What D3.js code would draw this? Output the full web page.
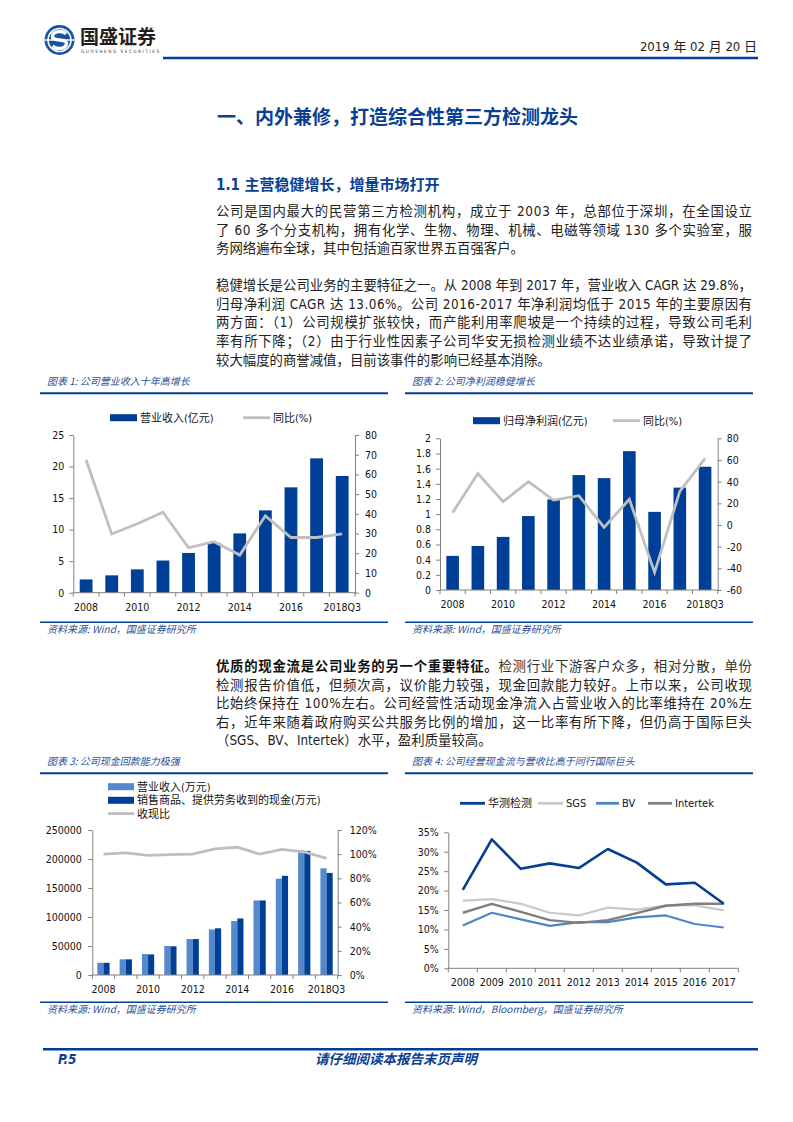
<!DOCTYPE html>
<html>
<head>
<meta charset="utf-8">
<script src="https://cdn.jsdelivr.net/npm/d3@7"></script>
<style>
  body { margin: 0; background: #fff; }
  svg { display: block; }
  text { font-family: "DejaVu Sans Condensed", "DejaVu Sans", "Noto Sans CJK SC", sans-serif; }
  .cjk { font-family: "Noto Sans CJK SC", sans-serif; }
</style>
</head>
<body>
<svg id="page" width="793" height="1122"></svg>
<script>
// ---- data ----
const years = ['2008', '2009', '2010', '2011', '2012', '2013', '2014', '2015', '2016', '2017', '2018Q3'];

// chart 1: revenue (亿元) and yoy (%)
const revenue = [2.1, 2.75, 3.7, 5.1, 6.3, 7.9, 9.4, 13.05, 16.7, 21.3, 18.5];
const revenueYoy = [67.3, 29.8, 35, 40.8, 22.8, 25.9, 19.1, 39, 28, 28, 29.8];
const revLeftTicks = [0, 5, 10, 15, 20, 25];
const revRightTicks = [0, 10, 20, 30, 40, 50, 60, 70, 80];

// chart 2: net profit (亿元) and yoy (%)
const profit = [0.45, 0.58, 0.70, 0.975, 1.195, 1.515, 1.475, 1.83, 1.03, 1.35, 1.625];
const profitYoy = [11.4, 47.5, 21.5, 40, 23, 27, -2.2, 23.7, -43.7, 31, 61.5];
const profLeftTicks = [0, 0.2, 0.4, 0.6, 0.8, 1, 1.2, 1.4, 1.6, 1.8, 2];
const profRightTicks = [-60, -40, -20, 0, 20, 40, 60, 80];

// chart 3: revenue vs cash received (万元), cash ratio (%)
const cashRevenue = [21000, 27000, 36000, 50000, 62000, 78500, 93000, 128500, 166000, 215000, 184000];
const cashReceived = [21000, 27000, 35500, 49500, 62000, 80500, 97500, 128500, 171000, 214000, 176000];
const cashRatio = [100, 101, 99, 99.7, 100, 104.3, 105.7, 100, 104, 101.8, 96.5];
const cashLeftTicks = [0, 50000, 100000, 150000, 200000, 250000];
const cashRightTicks = [0, 20, 40, 60, 80, 100, 120];

// chart 4: operating cash flow / revenue (%)
const peerYears = ['2008', '2009', '2010', '2011', '2012', '2013', '2014', '2015', '2016', '2017'];
const huace = [20.2, 33.2, 25.6, 27.0, 25.8, 30.7, 27.2, 21.6, 22.0, 16.6];
const sgs = [17.4, 17.8, 16.6, 14.3, 13.6, 15.6, 15.1, 16.2, 16.2, 14.9];
const bv = [11.0, 14.3, 12.6, 10.9, 11.9, 11.9, 13.1, 13.6, 11.4, 10.5];
const intertek = [14.3, 16.6, 14.5, 12.4, 11.7, 12.4, 14.2, 16.1, 16.6, 16.6];
const peerTicks = [0, 5, 10, 15, 20, 25, 30, 35];

// ---- colours ----
const BLUE = '#003f98', LIGHT = '#5589cc', GRAY = '#bfbfbf', AXIS = '#808080';
const NAVY = '#0b3f93', TXT = '#222';

const svg = d3.select('#page');

// ---- page header ----
const logo = svg.append('g').attr('transform', 'translate(59.5,40)');
logo.append('circle').attr('r', 15).attr('fill', '#1753a4');
logo.append('circle').attr('r', 11.5).attr('fill', 'none').attr('stroke', '#fff').attr('stroke-width', 1.6);
logo.append('path')
  .attr('d', 'M6.5,-6 C3,-10 -7,-9 -7,-3.5 C-7,2 7,-2 7,3.5 C7,9 -3,10 -7,6')
  .attr('fill', 'none').attr('stroke', '#fff').attr('stroke-width', 3.4);
logo.append('line').attr('x1', -15).attr('x2', 15).attr('stroke', '#fff').attr('stroke-width', 1.4);

svg.append('text').attr('x', 80).attr('y', 44)
  .attr('font-size', 19).attr('font-weight', 'bold').attr('fill', '#231f20').text('国盛证券');
svg.append('text').attr('x', 81).attr('y', 53).attr('font-size', 4.6).attr('fill', '#333')
  .attr('textLength', 78).attr('lengthAdjust', 'spacing').text('GUOSHENG SECURITIES');

svg.append('text').attr('x', 757).attr('y', 50.5).attr('text-anchor', 'end')
  .attr('font-size', 13).attr('fill', TXT)
  .attr('font-family', '"Liberation Sans Narrow","Liberation Sans","Noto Sans CJK SC",sans-serif')
  .text('2019 年 02 月 20 日');
svg.append('line').attr('x1', 163).attr('x2', 758).attr('y1', 58).attr('y2', 58)
  .attr('stroke', BLUE).attr('stroke-width', 2.5);

svg.append('text').attr('class', 'cjk').attr('x', 217).attr('y', 124)
  .attr('font-size', 19).attr('font-weight', 'bold').attr('fill', NAVY)
  .text('一、内外兼修，打造综合性第三方检测龙头');
svg.append('text').attr('x', 216).attr('y', 189.5)
  .attr('font-size', 15).attr('font-weight', 'bold').attr('fill', NAVY)
  .text('1.1 主营稳健增长，增量市场打开');

// ---- body text, justified line by line ----
function para(lines, y0, lh) {
  lines.forEach((ln, i) => {
    const t = svg.append('text').attr('x', 216).attr('y', y0 + i * lh)
      .attr('font-size', 13.4).attr('fill', TXT);
    if (ln.full) t.attr('textLength', 536).attr('lengthAdjust', 'spacing');
    if (ln.bold) {
      t.append('tspan').attr('font-weight', 'bold').attr('fill', '#111').text(ln.bold);
      t.append('tspan').attr('fill', '#333').text(ln.t);
    } else {
      t.text(ln.t);
    }
  });
}

para([
  { t: '公司是国内最大的民营第三方检测机构，成立于 2003 年，总部位于深圳，在全国设立', full: true },
  { t: '了 60 多个分支机构，拥有化学、生物、物理、机械、电磁等领域 130 多个实验室，服', full: true },
  { t: '务网络遍布全球，其中包括逾百家世界五百强客户。' }
], 216, 18.6);

para([
  { t: '稳健增长是公司业务的主要特征之一。从 2008 年到 2017 年，营业收入 CAGR 达 29.8%，', full: true },
  { t: '归母净利润 CAGR 达 13.06%。公司 2016-2017 年净利润均低于 2015 年的主要原因有', full: true },
  { t: '两方面：（1）公司规模扩张较快，而产能利用率爬坡是一个持续的过程，导致公司毛利', full: true },
  { t: '率有所下降；（2）由于行业性因素子公司华安无损检测业绩不达业绩承诺，导致计提了', full: true },
  { t: '较大幅度的商誉减值，目前该事件的影响已经基本消除。' }
], 290, 18.7);

para([
  { bold: '优质的现金流是公司业务的另一个重要特征。', t: '检测行业下游客户众多，相对分散，单份', full: true },
  { t: '检测报告价值低，但频次高，议价能力较强，现金回款能力较好。上市以来，公司收现', full: true },
  { t: '比始终保持在 100%左右。公司经营性活动现金净流入占营业收入的比率维持在 20%左', full: true },
  { t: '右，近年来随着政府购买公共服务比例的增加，这一比率有所下降，但仍高于国际巨头', full: true },
  { t: '（SGS、BV、Intertek）水平，盈利质量较高。' }
], 671, 18.5);

// ---- chart frames: caption, rules, source ----
function frame(x0, yTop, title, source) {
  svg.append('text').attr('class', 'cjk').attr('x', x0 + 7).attr('y', yTop + 3.6)
    .attr('font-size', 10).attr('font-style', 'italic').attr('fill', '#2a4f96').text(title);
  svg.append('line').attr('x1', x0).attr('x2', x0 + 348).attr('y1', yTop + 11.6).attr('y2', yTop + 11.6)
    .attr('stroke', BLUE).attr('stroke-width', 2);
  svg.append('line').attr('x1', x0).attr('x2', x0 + 348).attr('y1', yTop + 240.6).attr('y2', yTop + 240.6)
    .attr('stroke', BLUE).attr('stroke-width', 1.4);
  svg.append('text').attr('class', 'cjk').attr('x', x0 + 7).attr('y', yTop + 251.3)
    .attr('font-size', 10).attr('font-style', 'italic').attr('fill', '#2a4f96').text(source);
}

function styleAxis(g) {
  g.selectAll('path, line').attr('stroke', AXIS);
  g.selectAll('text').attr('font-size', 10.5).attr('fill', '#111')
    .attr('font-family', '"DejaVu Sans Condensed","DejaVu Sans",sans-serif');
}

function leftAxis(x, y, ticks, fmt, pad) {
  svg.append('g').attr('transform', `translate(${x},0)`)
    .call(d3.axisLeft(y).tickValues(ticks).tickFormat(fmt).tickSize(4).tickSizeOuter(0).tickPadding(pad))
    .call(styleAxis);
}

function rightAxis(x, y, ticks, fmt, pad) {
  svg.append('g').attr('transform', `translate(${x},0)`)
    .call(d3.axisRight(y).tickValues(ticks).tickFormat(fmt).tickSize(4).tickSizeOuter(0).tickPadding(pad))
    .call(styleAxis);
}

// category axis: ticks on band boundaries, labels on centres
function bottomAxis(x, yBase, labelY, every) {
  const [r0, r1] = x.range();
  const g = svg.append('g');
  g.append('line').attr('x1', r0).attr('x2', r1).attr('y1', yBase).attr('y2', yBase).attr('stroke', AXIS);
  d3.range(x.domain().length + 1).forEach(i => {
    const xx = r0 + i * x.step();
    g.append('line').attr('x1', xx).attr('x2', xx).attr('y1', yBase).attr('y2', yBase + 4).attr('stroke', AXIS);
  });
  g.selectAll('text.xl').data(x.domain().filter((d, i) => i % every === 0)).join('text')
    .attr('class', 'xl')
    .attr('x', d => x(d) + x.bandwidth() / 2).attr('y', labelY + 4)
    .attr('text-anchor', 'middle').attr('font-size', 10.5).attr('fill', '#111').text(d => d);
}

function legendRect(x, y, w, h, color, label) {
  svg.append('rect').attr('x', x).attr('y', y - h / 2).attr('width', w).attr('height', h).attr('fill', color);
  svg.append('text').attr('x', x + w + 3).attr('y', y + 4)
    .attr('font-size', 11).attr('fill', '#111').text(label);
}

function legendLine(x, y, w, color, sw, label) {
  svg.append('line').attr('x1', x).attr('x2', x + w).attr('y1', y).attr('y2', y)
    .attr('stroke', color).attr('stroke-width', sw);
  svg.append('text').attr('x', x + w + 3).attr('y', y + 4)
    .attr('font-size', 11).attr('fill', '#111').text(label);
}

const fmtNum = d => String(+d.toFixed(1));
const fmtPct = d => d + '%';

// ---- chart 1 ----
frame(40, 381.7, '图表 1:  公司营业收入十年高增长', '资料来源:  Wind，国盛证券研究所');
{
  const x = d3.scaleBand().domain(years).range([73.3, 355]).paddingInner(0.5).paddingOuter(0.25);
  const yL = d3.scaleLinear().domain([0, 25]).range([592.7, 435]);
  const yR = d3.scaleLinear().domain([0, 80]).range([592.7, 435]);

  svg.append('g').selectAll('rect').data(years).join('rect')
    .attr('x', d => x(d)).attr('width', x.bandwidth())
    .attr('y', (d, i) => yL(revenue[i])).attr('height', (d, i) => yL(0) - yL(revenue[i]))
    .attr('fill', BLUE);

  svg.append('path').datum(revenueYoy)
    .attr('d', d3.line().x((d, i) => x(years[i]) + x.bandwidth() / 2).y(d => yR(d)))
    .attr('fill', 'none').attr('stroke', GRAY).attr('stroke-width', 2.8);

  leftAxis(73.3, yL, revLeftTicks, fmtNum, 5);
  rightAxis(355, yR, revRightTicks, fmtNum, 6);
  bottomAxis(x, 592.7, 607.3, 2);

  legendRect(110, 417.7, 27, 7, BLUE, '营业收入(亿元)');
  legendLine(243, 417.7, 27, GRAY, 2.8, '同比(%)');
}

// ---- chart 2 ----
frame(405, 381.7, '图表 2:  公司净利润稳健增长', '资料来源:  Wind，国盛证券研究所');
{
  const x = d3.scaleBand().domain(years).range([440, 717.7]).paddingInner(0.5).paddingOuter(0.25);
  const yL = d3.scaleLinear().domain([0, 2]).range([590, 438.3]);
  const yR = d3.scaleLinear().domain([-60, 80]).range([590, 438.3]);

  svg.append('g').selectAll('rect').data(years).join('rect')
    .attr('x', d => x(d)).attr('width', x.bandwidth())
    .attr('y', (d, i) => yL(profit[i])).attr('height', (d, i) => yL(0) - yL(profit[i]))
    .attr('fill', BLUE);

  svg.append('path').datum(profitYoy)
    .attr('d', d3.line().x((d, i) => x(years[i]) + x.bandwidth() / 2).y(d => yR(d)))
    .attr('fill', 'none').attr('stroke', GRAY).attr('stroke-width', 2.8);

  leftAxis(440, yL, profLeftTicks, fmtNum, 5);
  rightAxis(717.7, yR, profRightTicks, fmtNum, 5);
  bottomAxis(x, 590, 604.3, 2);

  legendRect(473, 420.7, 27, 7, BLUE, '归母净利润(亿元)');
  legendLine(613, 420.7, 27, GRAY, 2.8, '同比(%)');
}

// ---- chart 3 ----
frame(40, 761.7, '图表 3:  公司现金回款能力极强', '资料来源:  Wind，国盛证券研究所');
{
  const x = d3.scaleBand().domain(years).range([92.3, 337.7]).paddingInner(0.45).paddingOuter(0.225);
  const xs = d3.scaleBand().domain(['rev', 'cash']).range([0, x.bandwidth()]);
  const yL = d3.scaleLinear().domain([0, 250000]).range([975, 830]);
  const yR = d3.scaleLinear().domain([0, 120]).range([975, 830]);

  const groups = [
    { key: 'rev', values: cashRevenue, color: LIGHT },
    { key: 'cash', values: cashReceived, color: BLUE }
  ];
  groups.forEach(s => {
    svg.append('g').selectAll('rect').data(years).join('rect')
      .attr('x', d => x(d) + xs(s.key)).attr('width', xs.bandwidth())
      .attr('y', (d, i) => yL(s.values[i])).attr('height', (d, i) => yL(0) - yL(s.values[i]))
      .attr('fill', s.color);
  });

  svg.append('path').datum(cashRatio)
    .attr('d', d3.line().x((d, i) => x(years[i]) + x.bandwidth() / 2).y(d => yR(d)))
    .attr('fill', 'none').attr('stroke', GRAY).attr('stroke-width', 2.8);

  leftAxis(92.3, yL, cashLeftTicks, d => String(d), 6.5);
  rightAxis(337.7, yR, cashRightTicks, fmtPct, 8);
  bottomAxis(x, 975, 989.3, 2);

  legendRect(108, 786.7, 26, 7, LIGHT, '营业收入(万元)');
  legendRect(108, 800.3, 26, 7, BLUE, '销售商品、提供劳务收到的现金(万元)');
  legendLine(108, 813.6, 26, GRAY, 2.8, '收现比');
}

// ---- chart 4 ----
frame(405, 761.7, '图表 4:  公司经营现金流与营收比高于同行国际巨头', '资料来源:  Wind，Bloomberg，国盛证券研究所');
{
  const x = d3.scaleBand().domain(peerYears).range([448.3, 738.3]).padding(0);
  const y = d3.scaleLinear().domain([0, 35]).range([968.3, 832.3]);
  const line = d3.line().x((d, i) => x(peerYears[i]) + x.bandwidth() / 2).y(d => y(d));

  const series = [
    { name: 'SGS', values: sgs, color: '#c9c9c9', sw: 2.2 },
    { name: 'BV', values: bv, color: '#4f86c6', sw: 2.2 },
    { name: 'Intertek', values: intertek, color: '#7f7f7f', sw: 2.4 },
    { name: '华测检测', values: huace, color: '#063f91', sw: 2.6 }
  ];
  series.forEach(s => {
    svg.append('path').datum(s.values).attr('d', line)
      .attr('fill', 'none').attr('stroke', s.color).attr('stroke-width', s.sw)
      .attr('stroke-linejoin', 'round');
  });

  leftAxis(448.3, y, peerTicks, fmtPct, 5.5);
  bottomAxis(x, 968.3, 981.7, 1);

  legendLine(460, 803.3, 25, '#063f91', 2.8, '华测检测');
  legendLine(538, 803.3, 25, '#c9c9c9', 2.8, 'SGS');
  legendLine(596, 803.3, 23, '#4f86c6', 2.8, 'BV');
  legendLine(648, 803.3, 24, '#7f7f7f', 2.8, 'Intertek');
}

// ---- footer ----
svg.append('line').attr('x1', 43).attr('x2', 758).attr('y1', 1049.3).attr('y2', 1049.3)
  .attr('stroke', BLUE).attr('stroke-width', 2.5);
svg.append('text').attr('x', 58).attr('y', 1064).attr('font-size', 13.5)
  .attr('font-weight', 'bold').attr('font-style', 'italic').attr('fill', NAVY).text('P.5');
svg.append('text').attr('class', 'cjk').attr('x', 396).attr('y', 1064).attr('text-anchor', 'middle')
  .attr('font-size', 13.5).attr('font-weight', 'bold').attr('font-style', 'italic').attr('fill', NAVY)
  .text('请仔细阅读本报告末页声明');
</script>
</body>
</html>
